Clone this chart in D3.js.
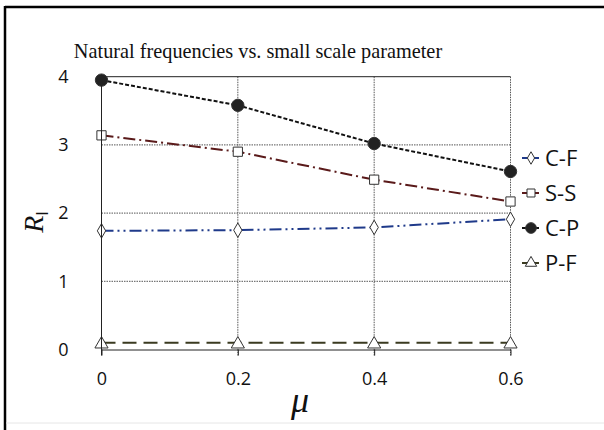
<!DOCTYPE html>
<html>
<head>
<meta charset="utf-8">
<script src="https://cdn.jsdelivr.net/npm/d3@7"></script>
<style>
  html, body { margin: 0; padding: 0; background: #fff; }
  svg { display: block; }
</style>
</head>
<body>
<svg id="chart" width="604" height="430"></svg>
<script>
// Small scale parameter values along the x axis
const mu = [0, 0.2, 0.4, 0.6];
const xTicks = [0, 0.2, 0.4, 0.6];
const yTicks = [0, 1, 2, 3, 4];

// Frequency ratio for each boundary condition
const cf = [1.74, 1.75, 1.79, 1.91];
const ss = [3.14, 2.90, 2.49, 2.17];
const cp = [3.95, 3.58, 3.02, 2.61];
const pf = [0.10, 0.10, 0.10, 0.10];

const seriesNames = ["C-F", "S-S", "C-P", "P-F"];

const svg = d3.select("#chart");
const W = 604, H = 430;

// Frame (left and top edges visible)
svg.append("line").attr("x1", 5).attr("x2", 5).attr("y1", 6).attr("y2", H)
  .attr("stroke", "#000").attr("stroke-width", 2.5);
svg.append("line").attr("x1", 5).attr("x2", W).attr("y1", 7).attr("y2", 7)
  .attr("stroke", "#000").attr("stroke-width", 2.5);
svg.append("line").attr("x1", 6).attr("x2", W).attr("y1", 423).attr("y2", 423)
  .attr("stroke", "#e6e6e6").attr("stroke-width", 1);

const x = d3.scaleLinear().domain([0, 0.6]).range([101.5, 510.5]);
const y = d3.scaleLinear().domain([0, 4]).range([349.5, 76.7]);

const g = svg.append("g");

// Horizontal gridlines
g.selectAll(".hgrid").data(yTicks.filter(d => d > 0 && d < 4)).enter().append("line")
  .attr("x1", x(0)).attr("x2", x(0.6))
  .attr("y1", d => y(d)).attr("y2", d => y(d))
  .attr("stroke", "#555").attr("stroke-width", 1).attr("stroke-dasharray", "1.5,1");
// Vertical gridlines
g.selectAll(".vgrid").data(xTicks.filter(d => d > 0)).enter().append("line")
  .attr("x1", d => x(d)).attr("x2", d => x(d))
  .attr("y1", y(4)).attr("y2", y(0) + 6)
  .attr("stroke", "#555").attr("stroke-width", 1).attr("stroke-dasharray", "1.5,1");
// Top border of plot area
g.append("line").attr("x1", x(0)).attr("x2", x(0.6)).attr("y1", y(4)).attr("y2", y(4))
  .attr("stroke", "#222").attr("stroke-width", 1);

// Axes
const xAxis = d3.axisBottom(x).tickValues(xTicks).tickFormat(d3.format("")).tickSize(6).tickSizeOuter(0);
const yAxis = d3.axisLeft(y).tickValues(yTicks).tickFormat(d3.format("d")).tickSize(0).tickPadding(38).tickSizeOuter(0);

const gx = svg.append("g").attr("transform", `translate(0,${y(0)})`).call(xAxis);
gx.select(".domain").attr("stroke", "#222");
gx.selectAll(".tick line").attr("stroke", "#222");
gx.selectAll(".tick text").attr("font-family", "Open Sans, Liberation Sans, sans-serif")
  .attr("font-size", 18).attr("fill", "#111").attr("dy", "1.45em");

const gy = svg.append("g").attr("transform", `translate(${x(0)},0)`).call(yAxis);
gy.select(".domain").attr("stroke", "#222");
gy.selectAll(".tick text").attr("font-family", "Open Sans, Liberation Sans, sans-serif")
  .attr("font-size", 18).attr("fill", "#111").attr("text-anchor", "middle");
// y-axis line runs a little below the zero
gy.select(".domain").attr("d", `M0,${y(4)}V${y(0) + 6}`);

// Title
svg.append("text").attr("x", 258).attr("y", 58).attr("text-anchor", "middle")
  .attr("font-family", "Liberation Serif, Times New Roman, serif").attr("font-size", 20.3)
  .attr("fill", "#111").text("Natural frequencies vs. small scale parameter");

// Axis labels
svg.append("text").attr("x", 300).attr("y", 412).attr("text-anchor", "middle")
  .attr("font-family", "Liberation Serif, serif").attr("font-style", "italic")
  .attr("font-size", 36).attr("fill", "#111").text("μ");

const yl = svg.append("text").attr("transform", "translate(43,222) rotate(-90)")
  .attr("text-anchor", "middle").attr("fill", "#111");
yl.append("tspan").attr("font-family", "Liberation Serif, serif").attr("font-style", "italic")
  .attr("font-size", 28).text("R");
yl.append("tspan").attr("font-family", "Liberation Sans, sans-serif")
  .attr("font-size", 16).attr("dy", 5).text("I");

// Series
const series = [
  { name: "C-F", values: cf, color: "#1f3a8a", dash: "12,4,2,4,2,4", marker: "diamond", fill: "#fff" },
  { name: "S-S", values: ss, color: "#5a1a1a", dash: "12,4,2,4", marker: "square", fill: "#fff" },
  { name: "C-P", values: cp, color: "#111", dash: "4,2", marker: "circle", fill: "#222" },
  { name: "P-F", values: pf, color: "#3a3a20", dash: "14,7", marker: "triangle", fill: "#fff" }
];

const line = d3.line().x((d, i) => x(mu[i])).y(d => y(d));

const symbolOf = {
  diamond: d3.symbolDiamond,
  square: d3.symbolSquare,
  circle: d3.symbolCircle,
  triangle: d3.symbolTriangle
};
const sizeOf = { diamond: 60, square: 85, circle: 120, triangle: 75 };

series.forEach(s => {
  g.append("path").datum(s.values).attr("d", line)
    .attr("fill", "none").attr("stroke", s.color).attr("stroke-width", 2)
    .attr("stroke-dasharray", s.dash);
  g.selectAll(null).data(s.values).enter().append("path")
    .attr("transform", (d, i) => `translate(${x(mu[i])},${y(d) + (s.marker === "triangle" ? 1.5 : 0)})`)
    .attr("d", d3.symbol().type(symbolOf[s.marker]).size(sizeOf[s.marker]))
    .attr("fill", s.fill).attr("stroke", "#333").attr("stroke-width", 1);
});

// Legend
const legend = svg.append("g");
const legendY = [158, 193, 228, 263];
series.forEach((s, i) => {
  const ly = legendY[i];
  legend.append("line").attr("x1", 522).attr("x2", 539).attr("y1", ly).attr("y2", ly)
    .attr("stroke", s.color).attr("stroke-width", 2);
  legend.append("path").attr("transform", `translate(531,${ly})`)
    .attr("d", d3.symbol().type(symbolOf[s.marker]).size(sizeOf[s.marker] * 0.75))
    .attr("fill", s.fill).attr("stroke", "#333").attr("stroke-width", 1);
  legend.append("text").attr("x", 545).attr("y", ly).attr("dy", "0.36em")
    .attr("font-family", "Open Sans, Liberation Sans, sans-serif").attr("font-size", 22)
    .attr("fill", "#111").text(s.name);
});
</script>
</body>
</html>
